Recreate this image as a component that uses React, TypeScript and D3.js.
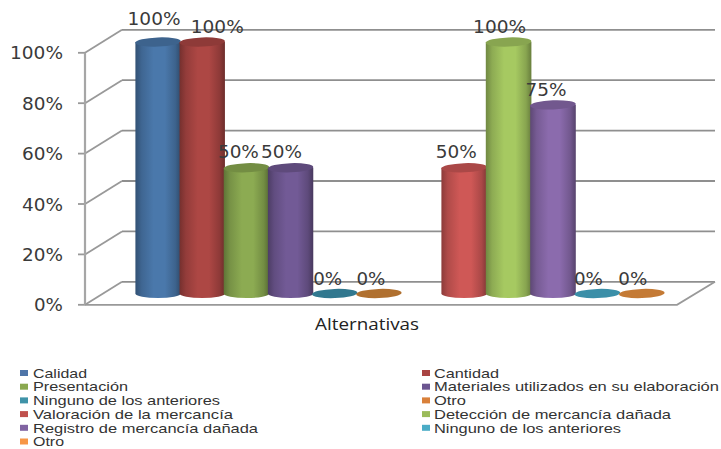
import React from "react";
import * as d3 from "d3";

const WIDTH = 721;
const HEIGHT = 449;

const tickValues = [0, 0.2, 0.4, 0.6, 0.8, 1];

const firstSeries = ["Calidad", "Cantidad", "Presentación", "Materiales utilizados en su elaboración", "Ninguno de los anteriores", "Otro"];
const firstValues = [1, 1, 0.5, 0.5, 0, 0];
const firstColors = ["#4a78ab", "#ad4744", "#8cab52", "#725a96", "#31788f", "#b0702f"];

const secondSeries = ["Valoración de la mercancía", "Detección de mercancía dañada", "Registro de mercancía dañada", "Ninguno de los anteriores", "Otro"];
const secondValues = [0.5, 1, 0.75, 0, 0];
const secondColors = ["#cf5856", "#a6c961", "#8b6bad", "#3b8fa8", "#c47a35"];

const axisTitle = "Alternativas";

// Legend runs in two columns, reading across then down.
const legendLeft = ["Calidad", "Presentación", "Ninguno de los anteriores", "Valoración de la mercancía", "Registro de mercancía dañada", "Otro"];
const legendLeftColors = ["#4f75a8", "#8aa84f", "#3f93a8", "#c0504d", "#8064a2", "#f79646"];
const legendLeftWidths = [54, 95, 187, 200, 225, 31];
const legendRight = ["Cantidad", "Materiales utilizados en su elaboración", "Otro", "Detección de mercancía dañada", "Ninguno de los anteriores"];
const legendRightColors = ["#a94442", "#6b5590", "#d9803a", "#9bbb59", "#4bacc6"];
const legendRightWidths = [65, 285, 32, 237, 187];

// Floor and walls of the 3D frame.
const FRONT_LEFT = 85;
const FRONT_RIGHT = 677;
const DEPTH_X = 37;
const DEPTH_Y = -23;
const BACK_RIGHT = 715;

const axisY = d3.scaleLinear().domain([0, 1]).range([304.8, 52.8]);
const barY = d3.scaleLinear().domain([0, 1]).range([293.5, 42]);
const firstX = d3.scaleBand<string>().domain(firstSeries).range([136, 401]);
const secondX = d3.scaleBand<string>().domain(secondSeries).range([442, 664]);
const pct = d3.format(".0%");

const RY = 4.6;
const TEXT = "#3a3a3a";
const GRID = "#999999";
const LEGEND_STEP = 13.7;

// Label nudges relative to a bar's centre and top.
const firstLabelShift: [number, number][] = [[-4, -17], [15, -9.5], [-8, -10], [-9, -10], [-7, -9], [-8, -9]];
const secondLabelShift: [number, number][] = [[-8, -10], [-9, -9], [-7, -9], [-9, -9], [-9, -9]];

type Cyl = { id: string; cx: number; rx: number; value: number; color: string; dx: number; dy: number };

function makeCylinders(names: string[], values: number[], colors: string[], scale: d3.ScaleBand<string>, shifts: [number, number][], prefix: string): Cyl[] {
  return names.map((n, i) => ({
    id: `${prefix}${i}`,
    cx: (scale(n) as number) + scale.bandwidth() / 2,
    rx: scale.bandwidth() / 2 + 0.6,
    value: values[i],
    color: colors[i],
    dx: shifts[i][0],
    dy: shifts[i][1],
  }));
}

const cylinders = [
  ...makeCylinders(firstSeries, firstValues, firstColors, firstX, firstLabelShift, "a"),
  ...makeCylinders(secondSeries, secondValues, secondColors, secondX, secondLabelShift, "b"),
];

function WideText({ x, y, w, anchor = "start", size, family, weight = 400, fill = TEXT, children }: any) {
  return (
    <text x={x} y={y} textAnchor={anchor} textLength={w} lengthAdjust="spacingAndGlyphs" fontSize={size} fontFamily={family} fontWeight={weight} fill={fill}>
      {children}
    </text>
  );
}

const numberWidth = (s: string) => (s.length === 4 ? 53 : s.length === 3 ? 41 : 29);

export default function App() {
  return (
    <svg width={WIDTH} height={HEIGHT} style={{ position: "absolute", left: 0, top: 0, background: "#fff" }}>
      <defs>
        {cylinders.map((c) => {
          const base = d3.rgb(c.color);
          return (
            <linearGradient key={c.id} id={c.id}>
              <stop offset="0" stopColor={base.darker(1.1).formatHex()} />
              <stop offset="0.14" stopColor={base.darker(0.45).formatHex()} />
              <stop offset="0.4" stopColor={c.color} />
              <stop offset="0.65" stopColor={c.color} />
              <stop offset="0.88" stopColor={base.darker(0.55).formatHex()} />
              <stop offset="1" stopColor={base.darker(1.3).formatHex()} />
            </linearGradient>
          );
        })}
      </defs>

      {/* frame: back gridlines, side wall, floor */}
      <g stroke={GRID} strokeWidth={1.8} fill="none">
        {tickValues.map((t) => {
          const y = axisY(t);
          return (
            <g key={t}>
              <line x1={FRONT_LEFT + DEPTH_X} x2={BACK_RIGHT} y1={y + DEPTH_Y} y2={y + DEPTH_Y} stroke="#8f8f8f" />
              <line x1={FRONT_LEFT} x2={FRONT_LEFT + DEPTH_X} y1={y} y2={y + DEPTH_Y} />
              <line x1={FRONT_LEFT - 7} x2={FRONT_LEFT} y1={y} y2={y} />
            </g>
          );
        })}
        <line x1={FRONT_LEFT} x2={FRONT_LEFT} y1={axisY(1)} y2={axisY(0)} stroke="#a6a6a6" strokeWidth={2.2} />
        <path d={`M${FRONT_LEFT},${axisY(0)}L${FRONT_RIGHT},${axisY(0)}L${BACK_RIGHT},${axisY(0) + DEPTH_Y}`} />
      </g>

      {/* axis labels */}
      {tickValues.map((t) => (
        <WideText key={t} x={63 - numberWidth(pct(t))} y={axisY(t) + 6.5} w={numberWidth(pct(t))} size={17} family="'DejaVu Sans'">
          {pct(t)}
        </WideText>
      ))}

      {/* cylinders */}
      {cylinders.map((c) => {
        const top = barY(c.value);
        const bottom = barY(0);
        const left = c.cx - c.rx;
        const right = c.cx + c.rx;
        const cap = d3.rgb(c.color);
        if (c.value === 0) {
          return <ellipse key={c.id} cx={c.cx} cy={bottom} rx={c.rx} ry={RY} fill={c.color} transform={`rotate(-2 ${c.cx} ${bottom})`} />;
        }
        return (
          <g key={c.id}>
            <path
              d={`M${left},${top}L${left},${bottom}A${c.rx},${RY} 0 0 0 ${right},${bottom}L${right},${top}Z`}
              fill={`url(#${c.id})`}
            />
            <ellipse cx={c.cx} cy={top} rx={c.rx} ry={RY} fill={cap.darker(0.55).formatHex()} transform={`rotate(-2 ${c.cx} ${top})`} />
          </g>
        );
      })}

      {/* data labels */}
      {cylinders.map((c) => {
        const s = pct(c.value);
        return (
          <WideText key={c.id} x={c.cx + c.dx} y={barY(c.value) + c.dy} anchor="middle" w={numberWidth(s)} size={17} family="'DejaVu Sans'">
            {s}
          </WideText>
        );
      })}

      <WideText x={315} y={330} w={104} size={15.5} family="'Open Sans'" weight={500} fill="#222222">
        {axisTitle}
      </WideText>

      {/* legend */}
      {legendLeft.map((name, i) => (
        <g key={`l${i}`}>
          <rect x={20} y={370 + i * LEGEND_STEP} width={8} height={6} fill={legendLeftColors[i]} />
          <WideText x={33} y={377.7 + i * LEGEND_STEP} w={legendLeftWidths[i]} size={13.5} family="'Liberation Sans'" fill="#333333">
            {name}
          </WideText>
        </g>
      ))}
      {legendRight.map((name, i) => (
        <g key={`r${i}`}>
          <rect x={422} y={370 + i * LEGEND_STEP} width={8} height={6} fill={legendRightColors[i]} />
          <WideText x={434} y={377.7 + i * LEGEND_STEP} w={legendRightWidths[i]} size={13.5} family="'Liberation Sans'" fill="#333333">
            {name}
          </WideText>
        </g>
      ))}
    </svg>
  );
}
